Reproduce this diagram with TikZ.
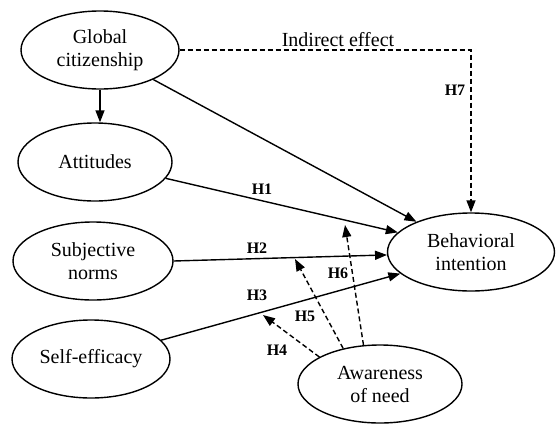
\documentclass[tikz,border=0pt]{standalone}
\usepackage{fontspec}
\setmainfont{Liberation Serif}
\usetikzlibrary{arrows.meta,shapes.geometric}
\tikzset{
  latent/.style={ellipse, draw, line width=1.4pt, inner sep=0pt, align=center,
    font=\fontsize{20}{23}\selectfont},
  conn/.style={line width=1.4pt, -{Triangle[length=12pt,width=9pt]}},
  dconn/.style={conn, dash pattern=on 5pt off 3pt},
  hlab/.style={font=\bfseries\fontsize{16}{16}\selectfont, inner sep=0pt},
}
\begin{document}
\begin{tikzpicture}[x=1pt,y=-1pt]
\useasboundingbox[fill=white] (0,0) rectangle (556,423);
\node[latent, minimum width=158pt, minimum height=78pt] (g) at (100,50) {Global\\citizenship};
\node[latent, minimum width=154pt, minimum height=78pt] (att) at (95,162) {Attitudes};
\node[latent, minimum width=160pt, minimum height=78pt] (sn) at (93,261) {Subjective\\norms};
\node[latent, minimum width=158pt, minimum height=78pt] (se) at (91,359) {Self-efficacy};
\node[latent, minimum width=167pt, minimum height=78pt] (bi) at (471,252) {Behavioral\\intention};
\node[latent, minimum width=164pt, minimum height=78pt] (aw) at (380,384) {Awareness\\of need};

\coordinate (h4e) at (263,315);
\coordinate (h5e) at (295,259);
\coordinate (h6e) at (345,225);

\draw[conn] (g.south) -- (g.south |- att.north);
\draw[conn] (g.-29) -- (bi.151);
\draw[conn] (att.-13.5) -- (bi.165.6);
\draw[conn] (sn.east) -- (bi.182);
\draw[conn] (se.15) -- (bi.197.2);
\draw[dconn] (g.east) -| (bi.north);
\draw[dconn] (aw.156.5) -- (h4e);
\draw[dconn] (aw.136.5) -- (h5e);
\draw[dconn] (aw.113) -- (h6e);

\node[anchor=base, inner sep=0pt, font=\fontsize{20}{23}\selectfont] (ie) at (338,46) {Indirect effect};
\node[hlab] (l1) at (262,189) {H1};
\node[hlab] (l2) at (257,248) {H2};
\node[hlab] (l3) at (257,295) {H3};
\node[hlab] (l4) at (277,350) {H4};
\node[hlab] (l5) at (305,316) {H5};
\node[hlab] (l6) at (338,273) {H6};
\node[hlab] (l7) at (455,90) {H7};
\end{tikzpicture}
\end{document}
